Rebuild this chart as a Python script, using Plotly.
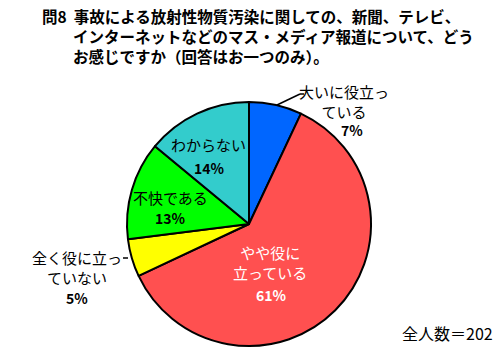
import plotly.graph_objects as go

labels = ["大いに役立っている", "やや役に立っている", "全く役に立っていない", "不快である", "わからない"]
values = [7, 61, 5, 13, 14]
colors = ["#0066FF", "#FF5050", "#FFFF00", "#00FF00", "#33CCCC"]
label_text = ["大いに役立っ<br>ている", "やや役に<br>立っている", "全く役に立っ<br>ていない", "不快である", "わからない"]
title_lines = ["問8\u00a0\u00a0事故による放射性物質汚染に関しての、新聞、テレビ、",
               "\u3000\u3000インターネットなどのマス・メディア報道について、どう",
               "\u3000\u3000お感じですか（回答はお一つのみ）。"]
total_label = "全人数＝202"

W, H = 500, 354
FONT = "Noto Sans CJK JP"

fig = go.Figure(go.Pie(
    labels=labels, values=values, sort=False, direction="clockwise", rotation=0,
    marker=dict(colors=colors, line=dict(color="black", width=2)),
    textinfo="none", hoverinfo="label+percent", showlegend=False,
    domain=dict(x=[127 / W, 371 / W], y=[8 / H, 252 / H]),
))

def px(x, y):
    return x / W, 1 - y / H

ann = []
# title (single block)
ax, ay = px(40, 3)
ann.append(dict(x=ax, y=ay, xref="paper", yref="paper",
                text="<b>" + "<br>".join(title_lines) + "</b>",
                xanchor="left", yanchor="top", showarrow=False, align="left",
                font=dict(family=FONT, size=15.5, color="black")))

# slice labels: (center x, first line y, pct x, pct y, text color)
label_pos = [(344, 101, 352, 130, "black"), (270, 262, 271, 295, "white"),
             (77, 267, 77, 298, "black"), (170, 197, 170, 218, "black"),
             (208, 145, 209, 168, "black")]
for i, (cx, ly, pxx, py, col) in enumerate(label_pos):
    ax, ay = px(cx, ly)
    ann.append(dict(x=ax, y=ay, xref="paper", yref="paper", text=label_text[i],
                    xanchor="center", yanchor="middle", showarrow=False, align="center",
                    font=dict(family=FONT, size=15, color=col)))
    ax, ay = px(pxx, py)
    ann.append(dict(x=ax, y=ay, xref="paper", yref="paper", text="<b>%d%%</b>" % values[i],
                    xanchor="center", yanchor="middle", showarrow=False,
                    font=dict(family=FONT, size=14, color=col)))

ax, ay = px(495, 333)
ann.append(dict(x=ax, y=ay, xref="paper", yref="paper", text=total_label,
                xanchor="right", yanchor="middle", showarrow=False,
                font=dict(family=FONT, size=16, color="black")))

shapes = []
# leader lines
for (x0, y0, x1, y1) in [(277, 105, 300, 94), (300, 94, 304, 94), (123, 258, 128, 258)]:
    a0, b0 = px(x0, y0)
    a1, b1 = px(x1, y1)
    shapes.append(dict(type="line", xref="paper", yref="paper", x0=a0, y0=b0, x1=a1, y1=b1,
                       line=dict(color="black", width=1.5)))

fig.update_layout(width=W, height=H, margin=dict(l=0, r=0, t=0, b=0),
                  paper_bgcolor="white", plot_bgcolor="white",
                  annotations=ann, shapes=shapes, font=dict(family=FONT))
fig.write_html("out.html")
